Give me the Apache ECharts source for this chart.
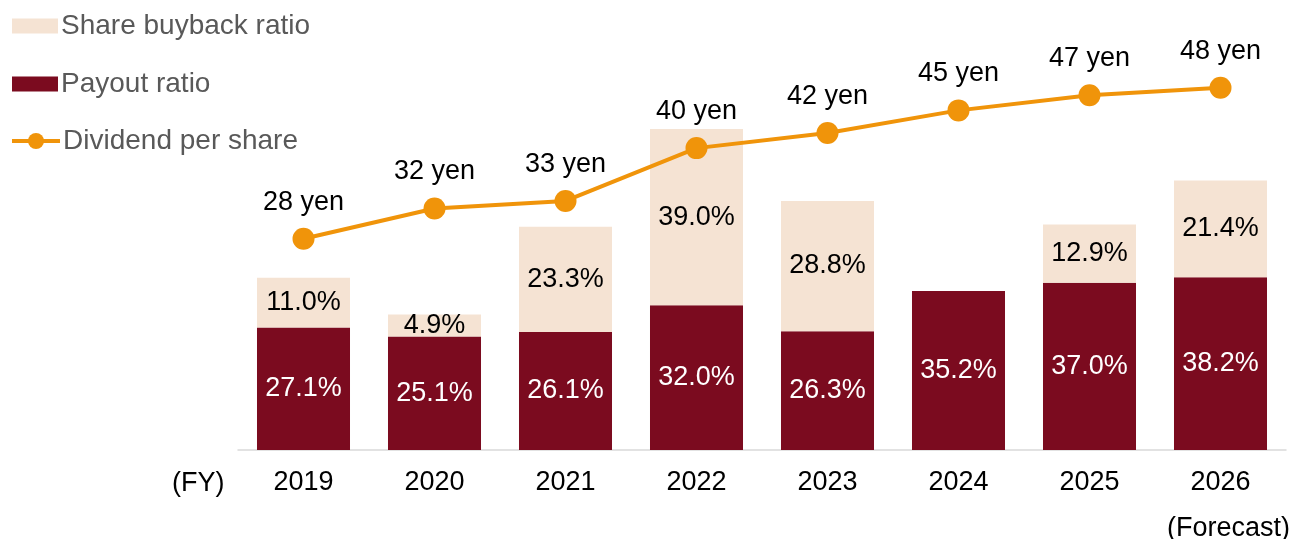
<!DOCTYPE html>
<html>
<head>
<meta charset="utf-8">
<style>
  html, body { margin: 0; padding: 0; background: #ffffff; overflow: hidden; }
  #chart { width: 1292px; height: 539px; }
</style>
<script src="https://cdn.jsdelivr.net/npm/echarts@6/dist/echarts.min.js"></script>
</head>
<body>
<div id="chart"></div>
<script>
// Fiscal years shown on the category axis
const years = ['2019', '2020', '2021', '2022', '2023', '2024', '2025', '2026'];
// Payout ratio (%)
const payoutRatio = [27.1, 25.1, 26.1, 32.0, 26.3, 35.2, 37.0, 38.2];
// Share buyback ratio (%), none in FY2024
const buybackRatio = [11.0, 4.9, 23.3, 39.0, 28.8, null, 12.9, 21.4];
// Dividend per share (yen)
const dividendPerShare = [28, 32, 33, 40, 42, 45, 47, 48];

const FONT = '"Liberation Sans", Arial, sans-serif';
const LABEL_SIZE = 27;
const legendText = { fontSize: 28, color: '#595959', lineHeight: 28, padding: [0, 0, 0, -2], fontFamily: FONT };
const chart = echarts.init(document.getElementById('chart'));

chart.setOption({
  animation: false,
  textStyle: { fontFamily: FONT },
  legend: [
    {
      orient: 'vertical',
      left: 12,
      top: 12,
      padding: 0,
      itemWidth: 46,
      itemHeight: 15,
      itemGap: 30,
      selectedMode: false,
      icon: 'rect',
      data: ['Share buyback ratio', 'Payout ratio'],
      textStyle: legendText
    },
    {
      orient: 'vertical',
      left: 10,
      top: 127,
      padding: 0,
      itemWidth: 48,
      itemHeight: 20,
      selectedMode: false,
      lineStyle: { width: 4 },
      data: ['Dividend per share'],
      textStyle: legendText
    }
  ],
  grid: { left: 238, width: 1048, top: 50, height: 400, outerBoundsMode: 'none', containLabel: false },
  xAxis: {
    type: 'category',
    data: years,
    axisLine: { show: true, lineStyle: { color: '#d9d9d9', width: 1.5 } },
    axisTick: { show: false },
    axisLabel: {
      interval: 0,
      hideOverlap: false,
      margin: 10,
      fontSize: LABEL_SIZE,
      lineHeight: 46,
      color: '#000000',
      fontFamily: FONT,
      formatter: v => v === '2026' ? '2026\n{note|(Forecast)}' : v,
      rich: {
        note: { fontSize: LABEL_SIZE, lineHeight: 46, color: '#000000', fontFamily: FONT, padding: [0, 0, 0, 16] }
      }
    }
  },
  yAxis: [
    { type: 'value', min: 0, max: 88.5, show: false, splitLine: { show: false } },
    { type: 'value', min: 0, max: 53, show: false, splitLine: { show: false } }
  ],
  graphic: [
    {
      type: 'text',
      left: 172,
      top: 470,
      style: { text: '(FY)', fill: '#000000', font: LABEL_SIZE + 'px ' + FONT }
    }
  ],
  series: [
    {
      name: 'Payout ratio',
      type: 'bar',
      stack: 'ratio',
      yAxisIndex: 0,
      barCategoryGap: '29%',
      data: payoutRatio,
      itemStyle: { color: '#7B0B1F' },
      label: {
        show: true,
        position: 'inside',
        color: '#ffffff',
        fontSize: LABEL_SIZE,
        fontFamily: FONT,
        formatter: p => p.value.toFixed(1) + '%'
      }
    },
    {
      name: 'Share buyback ratio',
      type: 'bar',
      stack: 'ratio',
      yAxisIndex: 0,
      data: buybackRatio,
      itemStyle: { color: '#F5E3D3' },
      label: {
        show: true,
        position: 'inside',
        color: '#000000',
        fontSize: LABEL_SIZE,
        fontFamily: FONT,
        formatter: p => p.value == null ? '' : p.value.toFixed(1) + '%'
      }
    },
    {
      name: 'Dividend per share',
      type: 'line',
      yAxisIndex: 1,
      data: dividendPerShare,
      symbol: 'circle',
      symbolSize: 22,
      lineStyle: { color: '#F0940A', width: 4 },
      itemStyle: { color: '#F0940A' },
      label: {
        show: true,
        position: 'top',
        distance: 12,
        color: '#000000',
        fontSize: LABEL_SIZE,
        fontFamily: FONT,
        formatter: p => p.value + ' yen'
      },
      z: 5
    }
  ]
});
</script>
</body>
</html>
